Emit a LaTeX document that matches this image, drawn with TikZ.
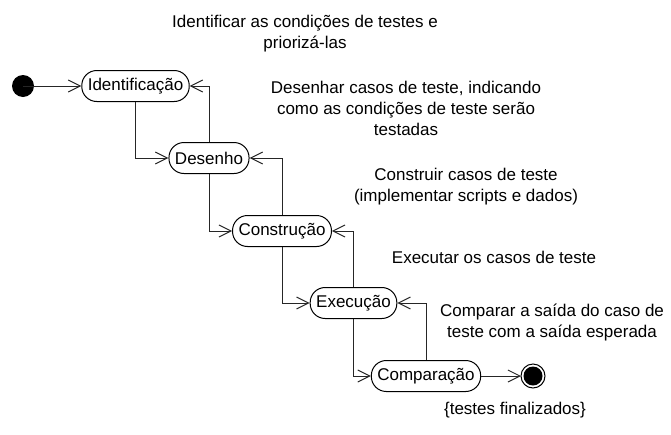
\documentclass[tikz,border=0pt]{standalone}
\usepackage{fontspec}
\setmainfont{Liberation Sans}
\usetikzlibrary{arrows.meta}

\begin{document}
\begin{tikzpicture}[
  x=1pt, y=-1pt,
  font=\fontsize{17}{21}\selectfont,
  >={Straight Barb[length=12pt,width=12pt]},
  state/.style={draw,line width=1pt,rounded corners=15pt,minimum height=31pt,inner xsep=6pt,inner ysep=2pt},
  flow/.style={->,line width=1pt,black!85},
  annot/.style={align=center,inner sep=0pt},
]
\useasboundingbox (0,0) rectangle (671,434);

% ===================================================================
% States
% ===================================================================
\node[state] (ident)  at (135.5,86)  {Identificação};
\node[state] (desenho) at (209,158)  {Desenho};
\node[state] (constr) at (282,231)   {Construção};
\node[state] (exec)   at (353.5,303) {Execução};
\node[state] (comp)   at (426,376)   {Comparação};

% initial / final
\fill (23,86) circle (11) coordinate (start);
\draw[line width=1pt] (533,376) circle (12);
\fill (533,376) circle (9.5);
\coordinate (fim) at (521,376);

% ===================================================================
% Transitions
% ===================================================================
\draw[flow] (start) -- (ident.west);
\draw[flow] (ident.south) |- (desenho.west);
\draw[flow] (desenho.north) |- (ident.east);
\draw[flow] (desenho.south) |- (constr.west);
\draw[flow] (constr.north) |- (desenho.east);
\draw[flow] (constr.south) |- (exec.west);
\draw[flow] (exec.north) |- (constr.east);
\draw[flow] (exec.south) |- (comp.west);
\draw[flow] (comp.north) |- (exec.east);
\draw[flow] (comp.east) -- (fim);

% ===================================================================
% Annotations
% ===================================================================
\node[annot] (tIdent) at (305,34)  {Identificar as condições de testes e\\priorizá-las};
\node[annot] (tDes)   at (406,108) {Desenhar casos de teste, indicando\\como as condições de teste serão\\testadas};
\node[annot] (tCon)   at (466,187) {Construir casos de teste\\(implementar scripts e dados)};
\node[annot] (tExe)   at (494,257) {Executar os casos de teste};
\node[annot] (tCmp)   at (552,322) {Comparar a saída do caso de\\teste com a saída esperada};
\node[annot] (tFim)   at (515,410) {\{testes finalizados\}};

\end{tikzpicture}
\end{document}
